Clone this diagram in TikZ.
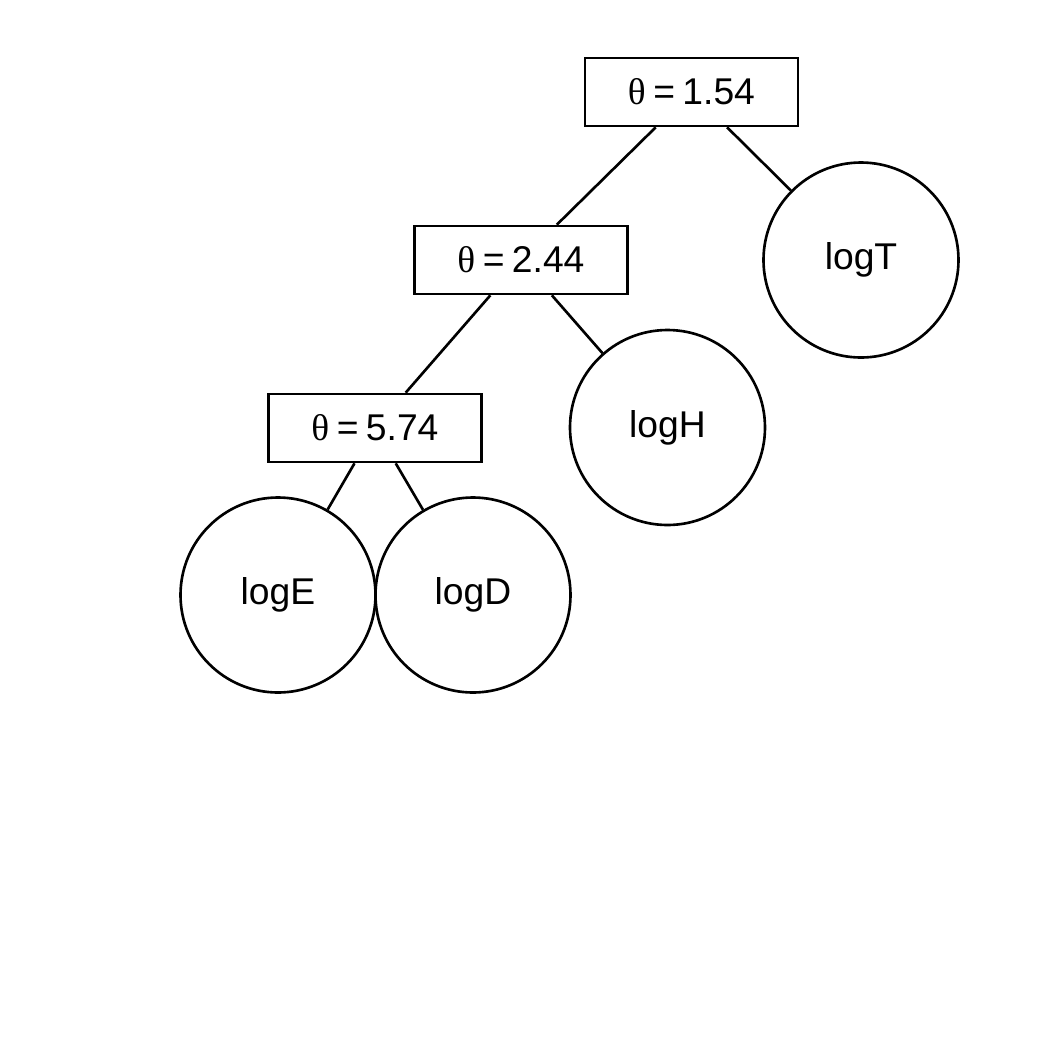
\documentclass[tikz,border=0pt]{standalone}
\usepackage{fontspec}
\setmainfont{Liberation Sans}
\newfontfamily\greekserif{Liberation Serif}
\usetikzlibrary{positioning}
\tikzset{
  splitnode/.style={rectangle, draw=black, line width=0.75pt,
    minimum width=2.13cm, minimum height=0.68cm, inner sep=0pt,
    font=\fontsize{10.6}{12}\selectfont, align=center},
  leafnode/.style={circle, draw=black, line width=0.75pt,
    minimum size=1.95cm, inner sep=0pt,
    font=\fontsize{10.6}{12}\selectfont, align=center},
  edge/.style={line width=0.75pt}
}
\newcommand{\thetaeq}[1]{{\greekserif θ}\hspace{0.2em}=\hspace{0.2em}#1}

\begin{document}
\begin{tikzpicture}
\useasboundingbox (0,0) rectangle (10.5,-10.5);

%% Split nodes
\node[splitnode] (s1) at (6.915, -0.92) {\thetaeq{1.54}};
\node[splitnode] (s2) at (5.21,  -2.60) {\thetaeq{2.44}};
\node[splitnode] (s3) at (3.75,  -4.28) {\thetaeq{5.74}};

%% Leaves
\node[leafnode] (logT) at (8.61, -2.60) {logT};
\node[leafnode] (logH) at (6.675,-4.275) {logH};
\node[leafnode] (logE) at (2.78, -5.95) {logE};
\node[leafnode] (logD) at (4.73, -5.95) {logD};

%% Edges
\draw[edge] (s1) -- (s2);
\draw[edge] (s1) -- (logT);
\draw[edge] (s2) -- (s3);
\draw[edge] (s2) -- (logH);
\draw[edge] (s3) -- (logE);
\draw[edge] (s3) -- (logD);

\end{tikzpicture}
\end{document}
